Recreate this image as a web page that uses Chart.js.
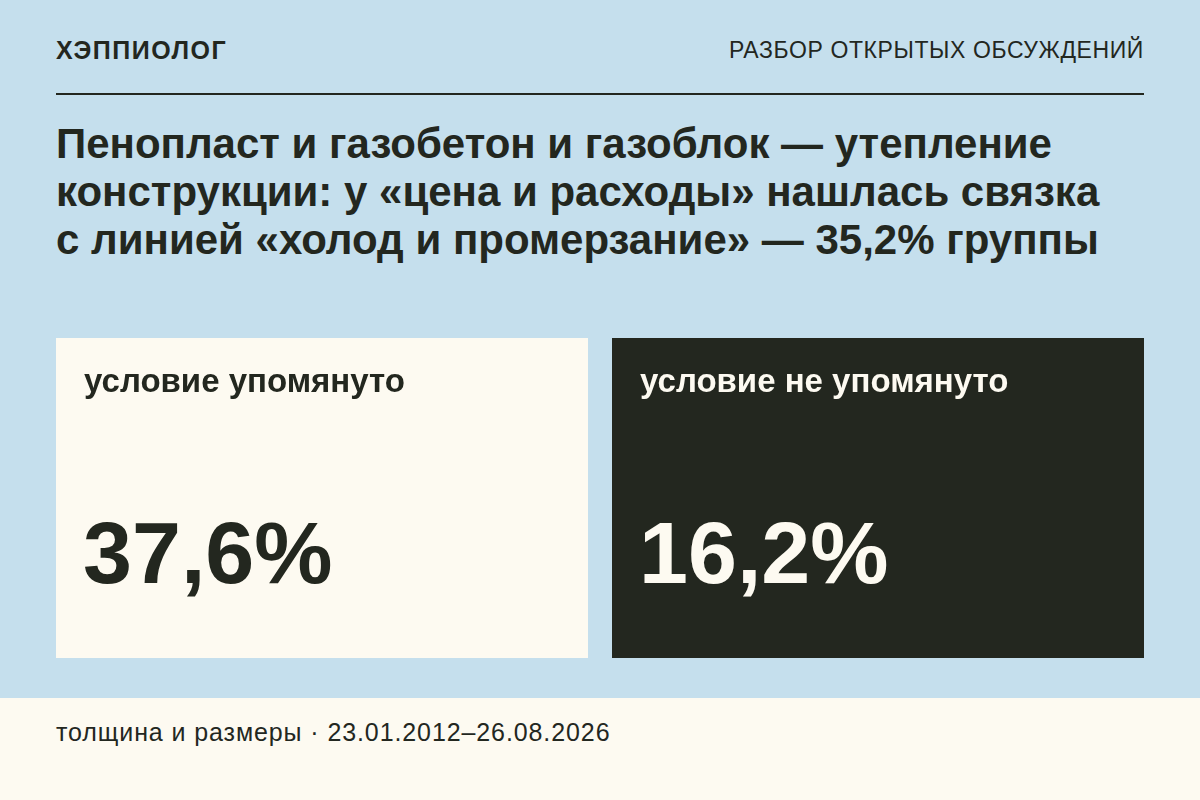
<!DOCTYPE html>
<html><head><meta charset="utf-8">
<script src="https://cdn.jsdelivr.net/npm/chart.js@4"></script>
<style>
html,body{margin:0;padding:0}
body{width:1200px;height:800px;background:#c5dfed;position:relative;overflow:hidden;font-family:"Liberation Sans",Arial,sans-serif;color:#23271f}
#brand{position:absolute;left:56px;top:36px;font-weight:bold;font-size:25px;letter-spacing:1.5px}
#kicker{position:absolute;right:56px;top:37px;font-size:23px;letter-spacing:0.6px}
#rule{position:absolute;left:56px;top:93px;width:1088px;height:2px;background:#23271f}
#title{position:absolute;left:56px;top:120px;font-weight:bold;font-size:42px;line-height:48px;width:1120px;white-space:nowrap}
#footer{position:absolute;left:0;top:698px;width:1200px;height:102px;background:#fdfaf1}
#foot{position:absolute;left:56px;top:718px;font-size:25px;letter-spacing:0.9px}
#wrap{position:absolute;left:44px;top:338px;width:1112px;height:320px}
</style></head><body>
<div id="brand">ХЭППИОЛОГ</div>
<div id="kicker">РАЗБОР ОТКРЫТЫХ ОБСУЖДЕНИЙ</div>
<div id="rule"></div>
<div id="title">Пенопласт и газобетон и газоблок — утепление<br>конструкции: у «цена и расходы» нашлась связка<br>с линией «холод и промерзание» — 35,2% группы</div>
<div id="wrap"><canvas id="c"></canvas></div>
<div id="footer"></div>
<div id="foot">толщина и размеры · 23.01.2012–26.08.2026</div>
<script>
const categories = ["условие упомянуто", "условие не упомянуто"];
const shares = [37.6, 16.2];
const valueLabels = ["37,6%", "16,2%"];
const panelColors = ["#fdfaf1", "#23271f"];
const textColors = ["#23271f", "#fdfaf1"];

const labelsPlugin = {
  id: 'cardText',
  afterDatasetsDraw(chart) {
    const ctx = chart.ctx;
    chart.getDatasetMeta(0).data.forEach((bar, i) => {
      const left = bar.x - bar.width / 2;
      const top = bar.y;
      ctx.save();
      ctx.fillStyle = textColors[i];
      ctx.textBaseline = 'alphabetic';
      ctx.font = 'bold 33px "Liberation Sans", Arial, sans-serif';
      ctx.fillText(categories[i], left + 28, top + 54);
      ctx.font = 'bold 88px "Liberation Sans", Arial, sans-serif';
      ctx.fillText(valueLabels[i], left + 27, top + 245);
      ctx.restore();
    });
  }
};

new Chart(document.getElementById('c'), {
  type: 'bar',
  data: {
    labels: categories,
    datasets: [{
      data: shares.map(() => 1),
      backgroundColor: panelColors,
      borderWidth: 0,
      categoryPercentage: 1,
      barPercentage: 532 / 556
    }]
  },
  options: {
    responsive: true, maintainAspectRatio: false, animation: false,
    layout: { padding: 0 },
    plugins: { legend: { display: false }, tooltip: { enabled: false } },
    scales: {
      x: { display: false },
      y: { display: false, min: 0, max: 1 }
    }
  },
  plugins: [labelsPlugin]
});
</script>
</body></html>
